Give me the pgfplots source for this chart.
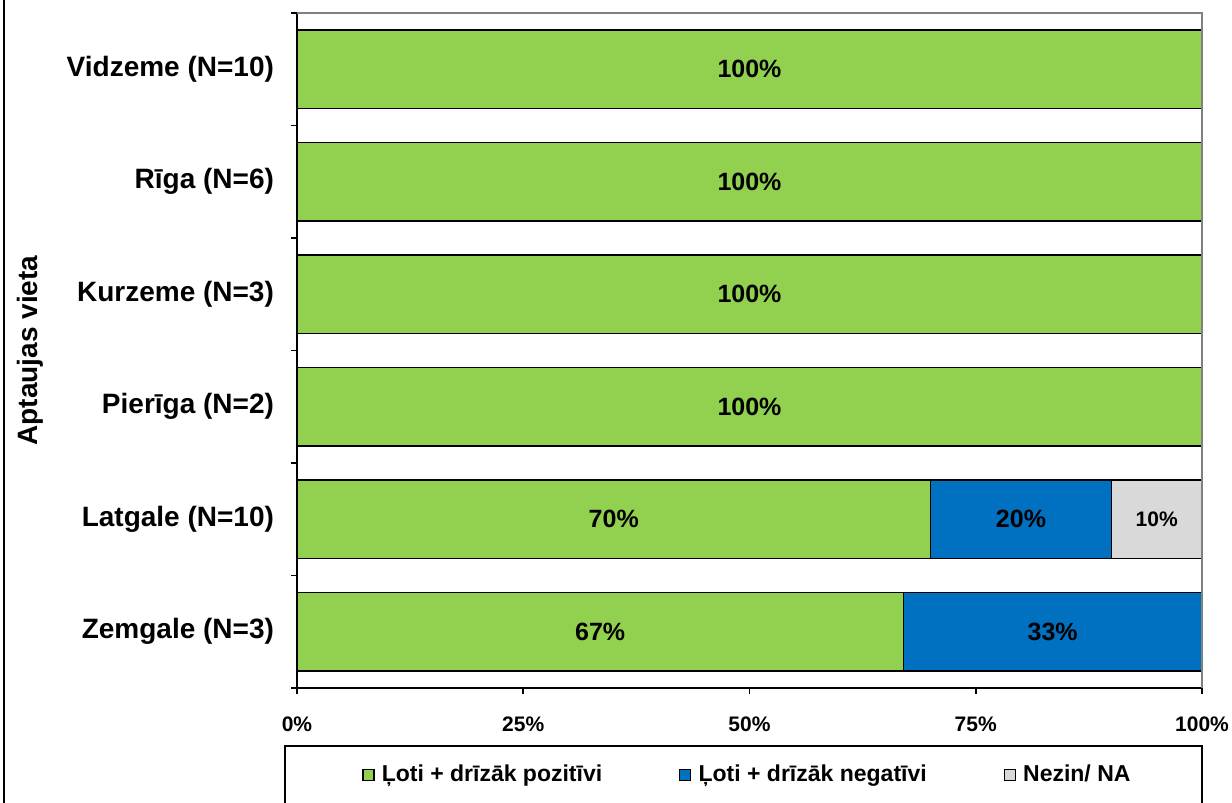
\documentclass[border=0pt]{standalone}
\usepackage{fontspec}
\setmainfont{Liberation Sans}
\usepackage{pgfplots}
\pgfplotsset{compat=1.18}
\usepackage{pgfplotstable}
\definecolor{cgreen}{HTML}{92D050}
\definecolor{cblue}{HTML}{0070C0}
\definecolor{cgray}{HTML}{D9D9D9}
\definecolor{cframe}{HTML}{808080}

\pgfplotstableread{
idx poz neg na
0 67 33 0
1 70 20 10
2 100 0 0
3 100 0 0
4 100 0 0
5 100 0 0
}\datatable

\pgfplotsset{
  sq/.style={legend image code/.code={\draw[##1, line width=0.6pt] (0pt,-2.75pt) rectangle (5.5pt,2.75pt); \path (7pt,0pt);}},
}

\begin{document}
\begin{tikzpicture}
\path[use as bounding box] (0pt,0pt) rectangle (616pt,-401.5pt);
\draw[line width=1pt] (2pt,0pt) -- (2pt,-401.5pt);
\begin{axis}[
  at={(148.5pt,-344pt)}, anchor=south west,
  scale only axis, width=452.5pt, height=337.5pt,
  xbar stacked, bar width=0.7,
  xmin=0, xmax=100, ymin=-0.5, ymax=5.5,
  enlargelimits=false,
  axis lines*=left,
  axis line style={line width=0.8pt, black},
  xtick={0,25,50,75,100},
  xticklabels={0\%,25\%,50\%,75\%,100\%},
  ytick={-0.5,0.5,1.5,2.5,3.5,4.5,5.5},
  y tick label as interval,
  yticklabels={Zemgale (N=3),Latgale (N=10),Pierīga (N=2),Kurzeme (N=3),Rīga (N=6),Vidzeme (N=10)},
  tick align=outside, major tick length=3pt,
  tick style={black, line width=0.8pt},
  x tick label style={font=\bfseries\fontsize{10.5}{12}\selectfont, yshift=-8pt},
  y tick label style={font=\bfseries\fontsize{14}{16}\selectfont, xshift=-5pt},
  ylabel={Aptaujas vieta},
  every axis y label/.style={at={(axis description cs:-0.295,0.5)}, anchor=center, rotate=90, font=\bfseries\fontsize{14}{16}\selectfont},
  clip=false,
  /pgf/number format/assume math mode=true,
  nodes near coords={\pgfmathfloatifflags{\pgfplotspointmeta}{0}{}{\pgfmathprintnumber{\pgfplotspointmeta}\%}},
  every node near coord/.append style={anchor=center, font=\bfseries\fontsize{12.5}{14}\selectfont},
  point meta=explicit,
  legend columns=3,
  legend style={draw=none, fill=none, at={(0.0718,-0.1289)}, anchor=west, inner sep=0pt,
    font=\bfseries\fontsize{11.5}{13}\selectfont,
    /tikz/every even column/.append style={column sep=36.5pt}},
]
\draw[cframe, line width=0.8pt] (rel axis cs:0,1) -- (rel axis cs:1,1) -- (rel axis cs:1,0);
\addplot[fill=cgreen, draw=black, line width=0.8pt, sq]
  table[x=poz, y=idx, meta=poz] {\datatable};
\addlegendentry{Ļoti + drīzāk pozitīvi}
\addplot[fill=cblue, draw=black, line width=0.8pt, sq]
  table[x=neg, y=idx, meta=neg] {\datatable};
\addlegendentry{Ļoti + drīzāk negatīvi}
\addplot[fill=cgray, draw=black, line width=0.8pt, sq,
  every node near coord/.append style={font=\bfseries\fontsize{10.5}{12}\selectfont}]
  table[x=na, y=idx, meta=na] {\datatable};
\addlegendentry{Nezin/ NA}
\end{axis}
\draw[line width=0.8pt] (142.5pt,-373pt) rectangle (601pt,-410pt);
\end{tikzpicture}
\end{document}
